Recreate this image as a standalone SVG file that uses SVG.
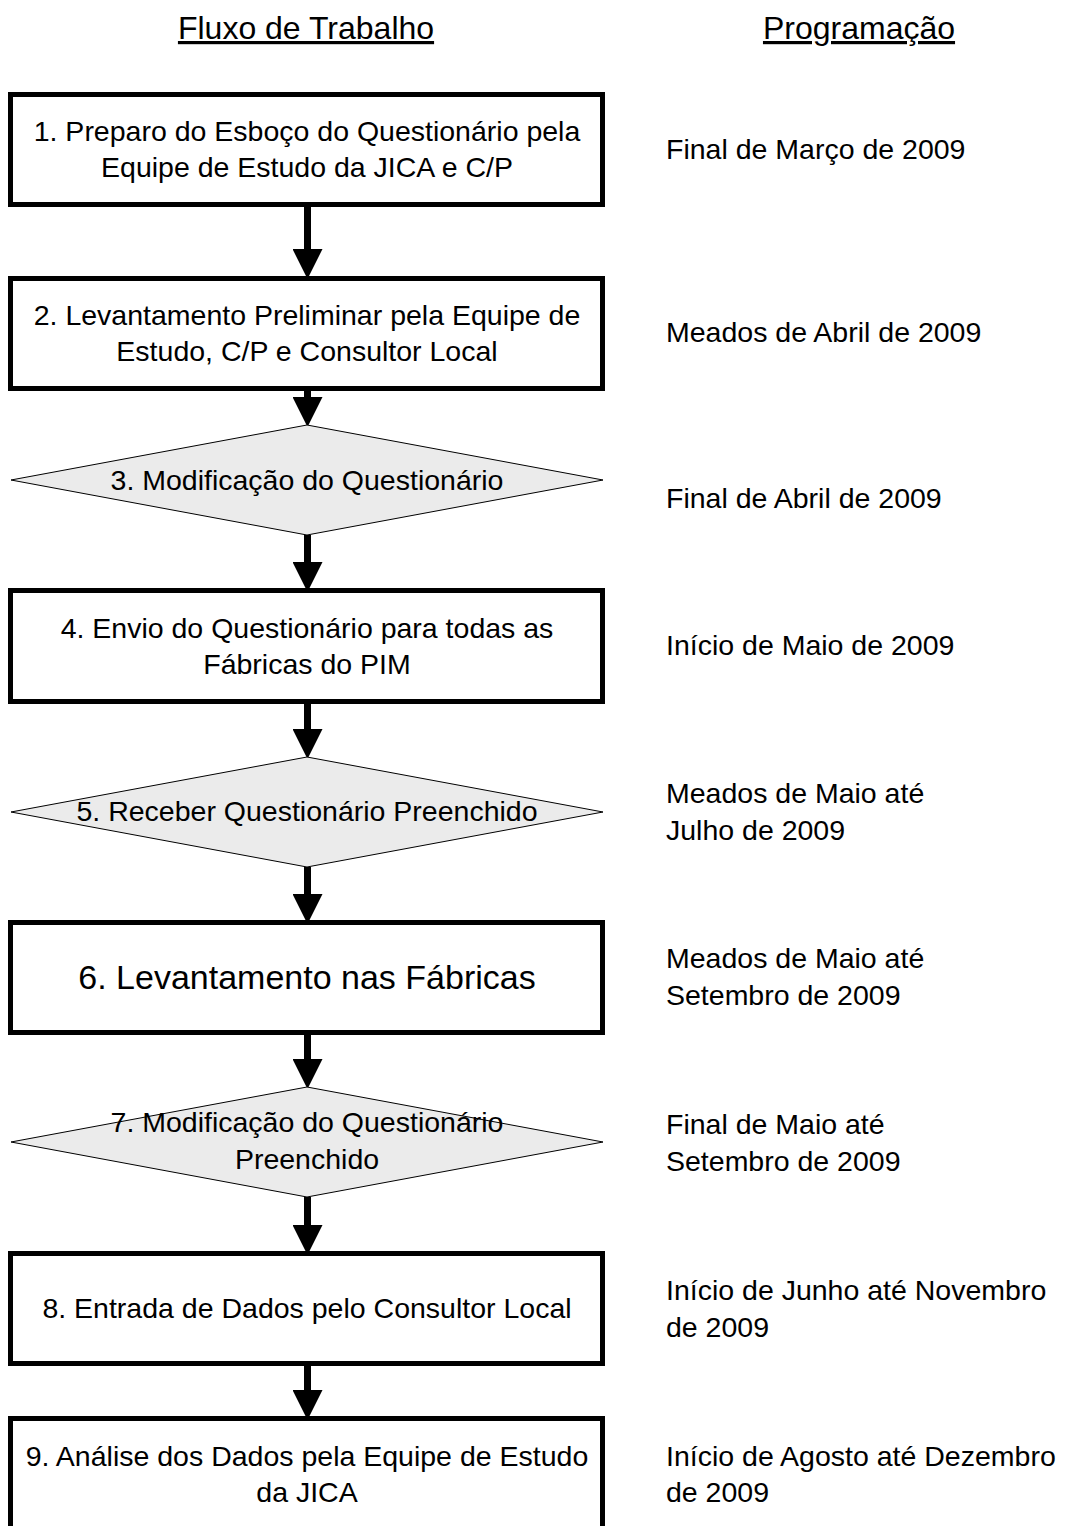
<svg xmlns="http://www.w3.org/2000/svg" width="1073" height="1526" viewBox="0 0 1073 1526">
<style>
text{font-family:"Liberation Sans",Arial,sans-serif;fill:#000}
.bt{font-size:28.5px;text-anchor:middle}
.big{font-size:34px;text-anchor:middle}
.rt{font-size:28.5px}
.hd{font-size:32px;text-anchor:middle;text-decoration:underline}
.box{fill:#fff;stroke:#000;stroke-width:5}
.dia{fill:#ebebeb;stroke:#000;stroke-width:1}
.sh{stroke:#000;stroke-width:7;fill:none}
</style>
<defs>
<marker id="ah" markerUnits="userSpaceOnUse" markerWidth="30" markerHeight="30" refX="0" refY="14" orient="auto" viewBox="0 0 28 28">
<path d="M0,0 L28,14 L0,28 z" fill="#000"/>
</marker>
</defs>
<rect width="1073" height="1526" fill="#fff"/>
<g id="headers">
<text class="hd" x="306" y="39">Fluxo de Trabalho</text>
<text class="hd" x="859" y="39">Programação</text>
</g>
<g id="connectors">
<line class="sh" x1="307.5" y1="205" x2="307.5" y2="249" marker-end="url(#ah)"/>
<line class="sh" x1="307.5" y1="388" x2="307.5" y2="397" marker-end="url(#ah)"/>
<line class="sh" x1="307.5" y1="535" x2="307.5" y2="562" marker-end="url(#ah)"/>
<line class="sh" x1="307.5" y1="702" x2="307.5" y2="729" marker-end="url(#ah)"/>
<line class="sh" x1="307.5" y1="867" x2="307.5" y2="894" marker-end="url(#ah)"/>
<line class="sh" x1="307.5" y1="1032" x2="307.5" y2="1059" marker-end="url(#ah)"/>
<line class="sh" x1="307.5" y1="1197" x2="307.5" y2="1225" marker-end="url(#ah)"/>
<line class="sh" x1="307.5" y1="1363" x2="307.5" y2="1390" marker-end="url(#ah)"/>
</g>
<g id="n1"><rect class="box" x="10.5" y="94.5" width="592" height="110"/>
<text class="bt" x="307" y="141">1. Preparo do Esboço do Questionário pela</text>
<text class="bt" x="307" y="177">Equipe de Estudo da JICA e C/P</text></g>
<g id="n2"><rect class="box" x="10.5" y="278.5" width="592" height="110"/>
<text class="bt" x="307" y="325">2. Levantamento Preliminar pela Equipe de</text>
<text class="bt" x="307" y="361">Estudo, C/P e Consultor Local</text></g>
<g id="n3"><polygon class="dia" points="307,425 603,480 307,535 11,480"/>
<text class="bt" x="307" y="490">3. Modificação do Questionário</text></g>
<g id="n4"><rect class="box" x="10.5" y="590.5" width="592" height="111"/>
<text class="bt" x="307" y="638">4. Envio do Questionário para todas as</text>
<text class="bt" x="307" y="674">Fábricas do PIM</text></g>
<g id="n5"><polygon class="dia" points="307,757 603,812 307,867 11,812"/>
<text class="bt" x="307" y="821">5. Receber Questionário Preenchido</text></g>
<g id="n6"><rect class="box" x="10.5" y="922.5" width="592" height="110"/>
<text class="big" x="307" y="989">6. Levantamento nas Fábricas</text></g>
<g id="n7"><polygon class="dia" points="307,1087 603,1142 307,1197 11,1142"/>
<text class="bt" x="307" y="1132">7. Modificação do Questionário</text>
<text class="bt" x="307" y="1169">Preenchido</text></g>
<g id="n8"><rect class="box" x="10.5" y="1253.5" width="592" height="110"/>
<text class="bt" x="307" y="1318">8. Entrada de Dados pelo Consultor Local</text></g>
<g id="n9"><rect class="box" x="10.5" y="1418.5" width="592" height="115"/>
<text class="bt" x="307" y="1466">9. Análise dos Dados pela Equipe de Estudo</text>
<text class="bt" x="307" y="1502">da JICA</text></g>
<g id="schedule">
<text class="rt" x="666" y="159">Final de Março de 2009</text>
<text class="rt" x="666" y="342">Meados de Abril de 2009</text>
<text class="rt" x="666" y="508">Final de Abril de 2009</text>
<text class="rt" x="666" y="655">Início de Maio de 2009</text>
<text class="rt" x="666" y="803">Meados de Maio até</text>
<text class="rt" x="666" y="840">Julho de 2009</text>
<text class="rt" x="666" y="968">Meados de Maio até</text>
<text class="rt" x="666" y="1005">Setembro de 2009</text>
<text class="rt" x="666" y="1134">Final de Maio até</text>
<text class="rt" x="666" y="1171">Setembro de 2009</text>
<text class="rt" x="666" y="1300">Início de Junho até Novembro</text>
<text class="rt" x="666" y="1337">de 2009</text>
<text class="rt" x="666" y="1466">Início de Agosto até Dezembro</text>
<text class="rt" x="666" y="1502">de 2009</text>
</g>
</svg>
